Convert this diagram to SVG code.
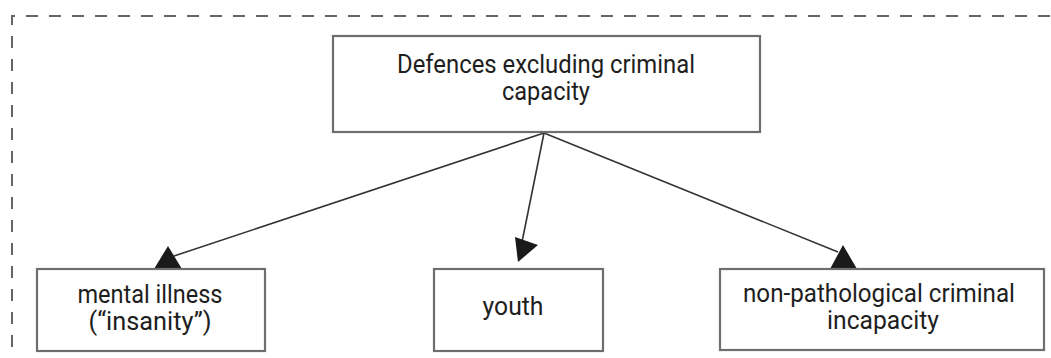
<svg xmlns="http://www.w3.org/2000/svg" width="1051" height="358" viewBox="0 0 1051 358">
  <style>
    .frame { fill: none; stroke: #666; stroke-width: 2; stroke-dasharray: 12 11; }
    .box { fill: #fff; stroke: #6e6e6e; stroke-width: 2.2; }
    .lbl { font-family: Roboto, "Liberation Sans", sans-serif; font-size: 25px; fill: #1e1e1e; text-anchor: middle; }
    .conn { stroke: #333; stroke-width: 1.6; fill: none; }
    .head { fill: #1a1a1a; stroke: none; }
  </style>
  <rect width="1051" height="358" fill="#fff"/>
  <path class="frame" d="M12 370 V16 H1060"/>
  <g id="connectors">
    <line class="conn" x1="544" y1="133" x2="174" y2="256"/>
    <line class="conn" x1="544" y1="133" x2="522" y2="242"/>
    <line class="conn" x1="544" y1="133" x2="838" y2="252"/>
    <polygon class="head" points="168,246 154,269 182,269"/>
    <polygon class="head" points="515,237 538,245 518,262"/>
    <polygon class="head" points="843,245 830,269 857,269"/>
  </g>
  <g id="node-root">
    <rect class="box" x="333" y="36" width="427" height="96"/>
    <text class="lbl" x="546" y="73" textLength="298" lengthAdjust="spacingAndGlyphs">Defences excluding criminal</text>
    <text class="lbl" x="546" y="100" textLength="88" lengthAdjust="spacingAndGlyphs">capacity</text>
  </g>
  <g id="node-mental">
    <rect class="box" x="37" y="269" width="228" height="82"/>
    <text class="lbl" x="150" y="303" textLength="145" lengthAdjust="spacingAndGlyphs">mental illness</text>
    <text class="lbl" x="150" y="330" textLength="123" lengthAdjust="spacingAndGlyphs">(“insanity”)</text>
  </g>
  <g id="node-youth">
    <rect class="box" x="434" y="269" width="169" height="82"/>
    <text class="lbl" x="513" y="315" textLength="61" lengthAdjust="spacingAndGlyphs">youth</text>
  </g>
  <g id="node-npci">
    <rect class="box" x="720" y="269" width="324" height="81"/>
    <text class="lbl" x="879" y="302" textLength="272" lengthAdjust="spacingAndGlyphs">non-pathological criminal</text>
    <text class="lbl" x="883" y="329" textLength="112" lengthAdjust="spacingAndGlyphs">incapacity</text>
  </g>
</svg>
